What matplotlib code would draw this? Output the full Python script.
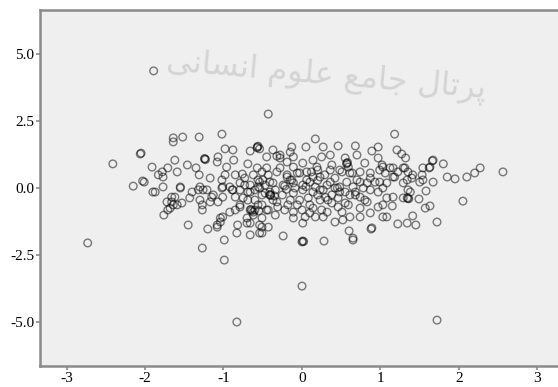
import matplotlib
matplotlib.use("Agg")
import matplotlib.pyplot as plt
import numpy as np

# ---- data ----
x_vals = [
    -1.89, -0.43, -2.73, -0.83, 0.00, 1.72, 2.56, -0.99, -1.27, -0.99, -1.45, -1.76, -1.20, -2.41, -2.15, -2.01,
    0.00, 0.01, -0.24, 0.28, 0.60, 0.65, 0.88, 1.22, 1.34, 1.45, 1.41, 1.72, 2.05, 1.08, 1.15, 1.16, 1.34, 1.35,
    1.38, 1.58, 1.57, 1.63, 1.49,
    1.18, 1.21, 1.27, 1.32, 1.66, 1.80, 1.62, 1.85, 1.95, 2.10, 2.20, 2.27,
    -1.64, -1.64, -1.52, -1.31, -1.02, -0.98, -0.88, -0.66, -0.57, -0.56, -0.54, -2.06, -2.05, -1.62, -1.24, -1.23,
    -1.07, -1.08, -0.87, -0.96, -0.69, -1.91, -1.78, -1.71, -1.83, -1.59, -1.46, -1.35, -1.31, -2.03, -1.77, -1.77,
    -1.55, -1.30, -1.17, -1.02, -0.98, -0.85, -0.76, -0.62, -0.57, -0.51, -0.92, -0.79, -0.66, -0.56,
    -1.90, -0.37, -0.45, -0.32, -1.13, -1.01, -0.88, -0.41, -0.66, -0.41, -1.62, -1.40, -1.26, -0.54,
    0.17, 0.05, -0.13, -0.15, -0.28, 0.27, 0.46, 0.68, 0.89, 0.97, 0.36, 0.70, 0.80, 0.55, 0.57, 0.58, 0.61, 0.48,
    0.14, 0.01, 0.19, -0.19, -0.11, -0.28, 1.02, 1.12, 1.22, 1.31, 1.67, 1.67, 1.54, 1.41, 1.34, 1.16, 0.99, 0.87,
    0.74, 0.36, 0.23, 0.06, -0.03, -0.19,
    0.25, -0.11, -0.28, 0.59, 0.97, 0.38, 0.51, 0.64, 0.74, 0.87, 0.99, -0.45, -0.32, -0.19, -0.06, 0.06, 0.14,
    0.29, 0.42, 0.57, 0.70, 0.83, 0.93, -0.50, -0.37, -0.24, -0.11, 0.01, 0.17, 0.32, 0.48, 0.65, 0.78,
    -0.41, -0.40, -0.37, -0.47, -0.25, -0.11, 0.01, 0.14, 0.27, 0.38, 0.48, 0.61, 0.74, 0.87, 0.97, -0.45, -0.31,
    -0.18, -0.11, 0.00, 0.04, -0.11, 0.14, 0.25, 0.17, 0.27, 0.01, 0.42, 0.52, 0.61, 0.51, 0.38, 0.23, 0.59, 0.74,
    0.83, 0.97, 0.87, 0.74, 0.65, 0.89, 1.03, -0.51, -0.43, -0.51, -0.32, -0.51,
    -1.87, -1.66, -1.66, -1.72, -1.55, -1.53, -1.59, -1.68, -1.32, -1.21, -1.43, -1.30, -1.27, -1.27, -1.17, -1.15,
    -1.07, -1.01, -1.02, -0.89, -0.79, -0.85, -0.75, -0.69, -0.60, -0.54, -0.79, -0.92, -1.01, -1.04, -1.08, -0.85,
    -0.66, -0.65, -0.60, -0.62, -0.70, -0.66, -0.54, -0.82, -0.83, -0.66, -0.54, -0.51,
    -1.71, -1.64, -1.08, -1.04, -0.79, -0.70, -0.62, -0.43,
    1.03, 1.06, 1.16, 1.18, 1.29, 1.35, 1.40, 1.53, 1.54, 1.63, 1.50, 1.29, 1.08,
    1.03, 1.08, 1.03, 1.35, 1.29,
    -0.60, -0.56, -0.51, -0.22, -0.15, -0.06, 0.08, 0.10, 0.20, 0.33, 0.46, 0.55, 0.68, 0.80, -0.73, -0.69, -0.47,
    -0.34, -0.09, 0.10, 0.23, 0.42, 0.55, 0.68, -0.03, -0.22, -0.34, 0.10, 0.32, 0.46, -0.56, -0.73, -0.43, -0.13,
    0.36, 0.20,
    -0.57, -1.24, 0.57, -0.64, -0.40, 0.02, 1.36, -0.35, 0.12, 0.05, -0.20, -0.55, 0.45, 0.30, -0.15, 0.20,
]
y_vals = [
    4.37, 2.76, -2.05, -5.00, -3.66, -4.93, 0.60, -2.69, -2.24, -1.94, -1.38, -1.01, -1.53, 0.90, 0.07, 0.22,
    -2.01, -1.98, -1.79, -1.98, -1.60, -1.94, -1.53, -1.34, -1.31, -1.38, -1.04, -1.27, -0.49, -1.08, -0.67, -0.34,
    -0.37, -0.39, -0.15, -0.11, -0.75, -0.67, -0.41,
    2.01, 1.42, 1.27, 1.12, 1.01, 0.90, 0.75, 0.41, 0.34, 0.41, 0.56, 0.75,
    1.72, 1.87, 1.90, 1.90, 2.01, 1.46, 1.42, 1.38, 1.53, 1.56, 1.46, 1.27, 1.30, 1.04, 1.08, 1.06,
    1.16, 0.97, 1.04, 0.78, 0.90, 0.78, 0.60, 0.75, 0.49, 0.60, 0.86, 0.75, 0.49, 0.26, 0.41, 0.04,
    0.04, 0.04, 0.37, 0.30, 0.49, 0.49, 0.52, 0.49, 0.75, 0.60, 0.04, 0.19, 0.11, 0.04,
    -0.15, 1.42, 1.16, 1.19, -0.26, 0.04, -0.07, 0.22, -0.15, -0.15, -0.34, -0.15, -0.07, 0.22,
    1.83, 1.53, 1.53, 1.34, 1.23, 1.53, 1.57, 1.57, 1.38, 1.53, 1.23, 1.23, 0.93, 1.12, 0.93, 0.95, 0.56, 0.67,
    1.04, 0.93, 0.78, 0.97, 0.78, 0.75, 0.86, 0.75, 0.60, 0.75, 1.04, 0.22, 0.30, 0.49, 0.30, 0.41, 0.22, 0.37,
    0.22, 0.22, 0.41, 0.30, 0.56, 0.41,
    1.16, 1.16, 1.12, 0.78, 1.12, 0.86, 0.60, 0.56, 0.60, 0.56, 0.67, 0.75, 0.60, 0.49, 0.56, 0.60, 0.41,
    0.49, 0.37, 0.22, 0.30, 0.19, 0.22, 0.30, 0.19, 0.11, 0.19, 0.11, 0.04, 0.11, 0.04, 0.04, 0.00,
    -0.26, -0.24, -0.45, -0.19, -0.26, -0.19, -0.07, -0.15, -0.07, -0.26, -0.15, -0.26, -0.34, -0.07, -0.15, -0.82, -0.71,
    -0.63, -0.90, -0.82, -1.08, -1.12, -0.75, -0.82, -1.08, -1.08, -1.31, -1.27, -1.19, -1.08, -0.90, -0.56, -0.45, -0.63, -0.75,
    -0.52, -0.71, -0.93, -1.08, -1.87, -1.49, -1.08, -1.46, -1.46, -1.68, -0.52, -0.63,
    -0.15, -0.34, -0.52, -0.52, 0.00, -0.56, -0.63, -0.75, -0.07, -0.07, -0.37, -0.45, -0.63, -0.82, -0.52, -0.34,
    -0.52, -0.34, 0.00, -0.07, -0.07, -0.34, -0.37, -0.15, -0.07, 0.00, -0.63, -0.90, -1.08, -1.12, -1.38, -0.82,
    -0.82, -0.80, -0.82, -1.01, -1.12, -1.31, -1.38, -1.38, -1.68, -1.75, -1.68, -1.12,
    -0.82, -0.63, -1.46, -1.27, -0.71, -1.31, -0.90, -0.82,
    0.78, 0.56, 0.75, 0.41, 0.75, 0.60, 0.37, 0.49, 0.75, 0.78, 0.22, 0.19, 0.19,
    0.00, -0.37, -0.63, -0.07, -0.37,
    -0.45, -0.63, -0.26, 0.07, -0.45, -0.63, -0.37, -0.63, -0.26, -0.45, -0.37, -0.56, -0.26, -0.45, 0.11, -0.45, 0.11,
    -0.07, 0.00, 0.22, -0.07, 0.00, -0.15, -0.15, -0.45, -0.82, -1.01, -0.93, -0.90, -0.71, 0.30, 0.37, 0.49, 0.30,
    0.67, 0.67,
    1.50, 1.10, 0.90, -0.85, -0.28, -2.00, -0.40, -0.30, 0.60, 0.05, -0.05, -0.85, 0.00, -0.35, 0.30, 0.28,
]
x_ticks = [-3, -2, -1, 0, 1, 2, 3]
x_tick_labels = ["-3", "-2", "-1", "0", "1", "2", "3"]
y_ticks = [5.0, 2.5, 0.0, -2.5, -5.0]
y_tick_labels = ["5.0", "2.5", "0.0", "-2.5", "-5.0"]

n = min(len(x_vals), len(y_vals))
xs = np.array(x_vals[:n])
ys = np.array(y_vals[:n])

fig = plt.figure(figsize=(5.58, 3.87), dpi=100)
fig.patch.set_facecolor("white")
ax = fig.add_axes([40 / 558, 21 / 387, 0.94, 356 / 387])
ax.set_facecolor("#efefef")

# faint watermark (Persian text, pre-shaped presentation forms, visual order)
wm = ("\uFBFD\uFEE7\uFE8E\uFEB4\uFEE7\uFE8D" + " " + "\uFEE1\uFEEE\uFEE0\uFECB" + " " +
      "\uFECA\uFEE3\uFE8E\uFE9F" + " " + "\uFEDD\uFE8E\uFE97\uFEAE\uFB58")
fig.text(326 / 558, 1 - 76 / 387, wm, family=["DejaVu Sans"], fontsize=23, color="#d4d4d4",
         ha="center", va="center", rotation=-5, zorder=0)

ax.scatter(xs, ys, s=30, facecolors="none", edgecolors="black", linewidths=1.0, alpha=0.5, zorder=3)

ax.set_xlim(-262 / 78.5, -262 / 78.5 + 0.94 * 558 / 78.5)
ax.set_ylim(-178 / 26.8, 178 / 26.8)

ax.set_xticks(x_ticks)
ax.set_xticklabels(x_tick_labels)
ax.set_yticks(y_ticks)
ax.set_yticklabels(y_tick_labels)

for side in ["left", "bottom", "top"]:
    ax.spines[side].set_color("#8a8a8a")
    ax.spines[side].set_linewidth(1.8)
ax.spines["right"].set_visible(False)

ax.tick_params(axis="both", direction="out", length=3, width=1.2, color="#8a8a8a",
               labelsize=11, labelcolor="black", pad=1)
for lab in ax.get_xticklabels() + ax.get_yticklabels():
    lab.set_family("Liberation Serif")

fig.savefig("out.png", dpi=100)
